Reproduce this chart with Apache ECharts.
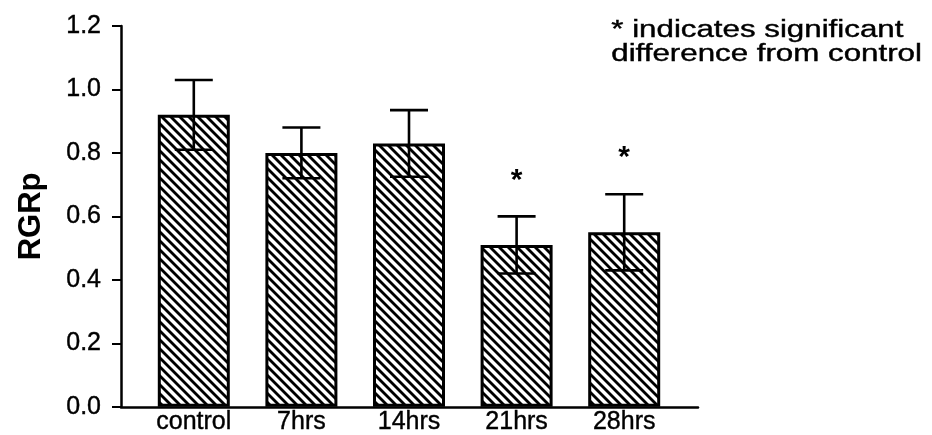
<!DOCTYPE html>
<html>
<head>
<meta charset="utf-8">
<script src="https://cdn.jsdelivr.net/npm/echarts@6/dist/echarts.min.js"></script>
<style>
  html, body { margin: 0; padding: 0; background: #fff; }
  #chart { width: 932px; height: 435px; }
</style>
</head>
<body>
<div id="chart"></div>
<script>
// Relative growth rate (RGRp) per treatment, mean ± SE
const categories = ['control', '7hrs', '14hrs', '21hrs', '28hrs'];
const means = [0.92, 0.80, 0.83, 0.51, 0.55];
const errors = [0.11, 0.08, 0.105, 0.09, 0.12];
const significant = [false, false, false, true, true];
const yTicks = [0, 0.2, 0.4, 0.6, 0.8, 1.0, 1.2];

const FONT = '"Liberation Sans", Arial, Helvetica, sans-serif';

// Diagonal hatch tile ("\\" direction), tiles seamlessly
function hatchTile() {
  const s = 9;
  const c = document.createElement('canvas');
  c.width = s; c.height = s;
  const g = c.getContext('2d');
  g.fillStyle = '#fff';
  g.fillRect(0, 0, s, s);
  g.strokeStyle = '#000';
  g.lineWidth = 2.8;
  for (let k = -1; k <= 1; k++) {
    g.beginPath();
    g.moveTo(-1, k * s - 1);
    g.lineTo(s + 1, s + k * s + 1);
    g.stroke();
  }
  return c;
}

const chart = echarts.init(document.getElementById('chart'), null, { renderer: 'canvas' });

const option = {
  backgroundColor: '#fff',
  animation: false,
  grid: [
    { left: 140, right: 254, top: 26, bottom: 28 },
    { left: 121, right: 234, top: 26, bottom: 28 }
  ],
  xAxis: [
    {
      type: 'category',
      gridIndex: 0,
      data: categories,
      axisLine: { show: false },
      axisTick: { show: false },
      axisLabel: {
        color: '#000', fontFamily: FONT, fontSize: 25, margin: 3,
        textBorderColor: '#000', textBorderWidth: 0.4
      }
    },
    {
      // full-width baseline of the plot
      type: 'value',
      gridIndex: 1,
      min: 0, max: 1,
      axisLine: { show: true, lineStyle: { color: '#000', width: 2.5 } },
      axisTick: { show: false },
      axisLabel: { show: false },
      splitLine: { show: false }
    }
  ],
  yAxis: [
    {
      type: 'value',
      gridIndex: 0,
      min: yTicks[0],
      max: yTicks[yTicks.length - 1],
      interval: 0.2,
      offset: 19,
      name: 'RGRp',
      nameLocation: 'middle',
      nameGap: 74,
      nameRotate: 90,
      nameTextStyle: { color: '#000', fontFamily: FONT, fontSize: 31, fontWeight: 'bold' },
      axisLine: { show: true, lineStyle: { color: '#000', width: 2.5 } },
      axisTick: { show: true, inside: false, length: 9, lineStyle: { color: '#000', width: 2 } },
      axisLabel: {
        color: '#000', fontFamily: FONT, fontSize: 25, margin: 20,
        textBorderColor: '#000', textBorderWidth: 0.4,
        formatter: v => v.toFixed(1)
      },
      splitLine: { show: false }
    },
    {
      type: 'value',
      gridIndex: 1,
      show: false
    }
  ],
  series: [
    {
      type: 'bar',
      xAxisIndex: 0,
      yAxisIndex: 0,
      data: means,
      barWidth: 72,
      itemStyle: {
        color: { image: hatchTile(), repeat: 'repeat' },
        borderColor: '#000',
        borderWidth: 3
      },
      z: 2
    },
    {
      type: 'custom',
      xAxisIndex: 0,
      yAxisIndex: 0,
      data: categories.map((c, i) => [i, means[i], errors[i], significant[i] ? 1 : 0]),
      z: 5,
      renderItem: function (params, api) {
        const i = api.value(0);
        const m = api.value(1);
        const e = api.value(2);
        const top = api.coord([i, m + e]);
        const bot = api.coord([i, m - e]);
        const half = 19;
        const style = { stroke: '#000', lineWidth: 2.6 };
        const children = [
          { type: 'line', shape: { x1: top[0], y1: top[1], x2: bot[0], y2: bot[1] }, style },
          { type: 'line', shape: { x1: top[0] - half, y1: top[1], x2: top[0] + half, y2: top[1] }, style },
          { type: 'line', shape: { x1: bot[0] - half, y1: bot[1], x2: bot[0] + half, y2: bot[1] }, style }
        ];
        if (api.value(3)) {
          children.push({
            type: 'text',
            style: {
              text: '*', x: top[0], y: top[1] - 51,
              fill: '#000', font: 'bold 30px ' + FONT,
              align: 'center', verticalAlign: 'top'
            }
          });
        }
        return { type: 'group', children };
      }
    }
  ],
  graphic: [
    {
      type: 'text',
      left: 611,
      top: 19,
      scaleX: 1.36,
      style: {
        text: '* indicates significant\ndifference from control',
        fill: '#000',
        font: '23px ' + FONT,
        lineHeight: 24,
        stroke: '#000',
        lineWidth: 0.4
      }
    }
  ]
};

chart.setOption(option);
</script>
</body>
</html>
